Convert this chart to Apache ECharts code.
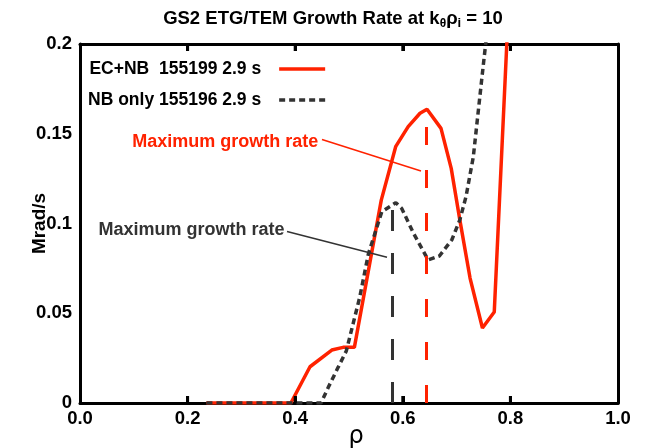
<!DOCTYPE html>
<html><head><meta charset="utf-8">
<script src="https://cdn.jsdelivr.net/npm/echarts@6/dist/echarts.min.js"></script>
<style>html,body{margin:0;padding:0;background:#fff}#c{width:645px;height:448px}</style>
</head><body><div id="c"></div>
<script>
// ---- data ----
const ecnbRho = [0.235, 0.300, 0.392, 0.4275, 0.468, 0.489, 0.510, 0.560, 0.587, 0.610, 0.632, 0.645, 0.671, 0.690, 0.706, 0.725, 0.748, 0.770, 0.800];
const ecnbGamma = [0, 0, 0, 0.0202, 0.0295, 0.031, 0.031, 0.113, 0.143, 0.154, 0.1614, 0.1636, 0.153, 0.1307, 0.102, 0.0696, 0.0418, 0.0507, 0.243];
const nbRho = [0.235, 0.300, 0.392, 0.448, 0.462, 0.480, 0.495, 0.520, 0.536, 0.561, 0.587, 0.598, 0.620, 0.647, 0.668, 0.691, 0.706, 0.7175, 0.731, 0.739, 0.7466, 0.754, 0.760];
const nbGamma = [0, 0, 0, 0, 0.009, 0.020, 0.029, 0.059, 0.083, 0.1066, 0.1116, 0.1084, 0.0945, 0.0797, 0.0819, 0.0908, 0.102, 0.115, 0.137, 0.159, 0.18, 0.2, 0.215];
const seriesNames = ['EC+NB  155199 2.9 s', 'NB only 155196 2.9 s'];
const xTicks = [0, 0.2, 0.4, 0.6, 0.8, 1.0];
const yTickLabels = ['0', '0.05', '0.1', '0.15', '0.2'];
const ecnbMaxLine = [[0.643, 0], [0.643, 0.1636]];
const nbMaxLine = [[0.580, 0], [0.580, 0.1114]];
const ecnbPointer = [[0.4498, 0.1468], [0.6338, 0.1292]];
const nbPointer = [[0.3848, 0.0955], [0.5706, 0.0812]];
const annotText = 'Maximum growth rate';
const ecnbAnnotAt = [0.443, 0.1454];
const nbAnnotAt = [0.380, 0.0965];

const RED = '#ff2200', DARK = '#333333';
const FONT = '"Liberation Sans", Arial, sans-serif';
const Y_MIN = 0, Y_MAX = 0.2;
const zip = (a, b) => a.map((v, i) => [v, b[i]]);

const chart = echarts.init(document.getElementById('c'));
const axisLine = { show: true, onZero: false, lineStyle: { color: '#000', width: 3 } };
const axisTickOpt = { show: true, inside: true, length: 7, lineStyle: { width: 3, color: '#000' } };

chart.setOption({
  animation: false,
  title: {
    text: 'GS2 ETG/TEM Growth Rate at k{sub|θ}ρ{sub2|i} = 10',
    left: 328, top: 2, textAlign: 'center',
    textStyle: {
      fontFamily: FONT, fontSize: 18.5, fontWeight: 'bold', color: '#000',
      rich: {
        sub: { fontFamily: FONT, fontSize: 12, fontWeight: 'bold', padding: [10, 0, 0, 0] },
        sub2: { fontFamily: FONT, fontSize: 13, fontWeight: 'bold', padding: [10, 0, 0, 0] }
      }
    }
  },
  grid: { left: 80, right: 27, top: 44, bottom: 45, show: false, outerBoundsMode: 'none', containLabel: false },
  legend: {
    orient: 'vertical', left: 88, top: 60, align: 'right', itemGap: 13, padding: 0,
    itemWidth: 46, itemHeight: 14,
    itemStyle: { opacity: 0 },
    lineStyle: { width: 3.5 },
    textStyle: { fontFamily: FONT, fontSize: 17.5, fontWeight: 'bold', color: '#000', padding: [0, 13, 0, 0] },
    data: seriesNames
  },
  xAxis: [{
    type: 'value', min: 0, max: 1, interval: 0.2, position: 'bottom',
    axisLine, splitLine: { show: false }, axisTick: axisTickOpt,
    axisLabel: { margin: 6, fontFamily: FONT, fontSize: 18.5, fontWeight: 'bold', color: '#000', formatter: v => v.toFixed(1) },
    name: 'ρ', nameLocation: 'middle', nameGap: 22, nameMoveOverlap: false,
    nameTextStyle: { fontFamily: 'DejaVu Sans, sans-serif', fontSize: 24, color: '#000', padding: [0, 0, 0, 14] }
  }, {
    type: 'value', min: 0, max: 1, interval: 0.2, position: 'top',
    axisLine, splitLine: { show: false }, axisTick: axisTickOpt,
    axisLabel: { show: false }
  }],
  yAxis: [{
    type: 'value', min: Y_MIN, max: Y_MAX, interval: 0.05, position: 'left',
    axisLine, splitLine: { show: false }, axisTick: { show: false },
    axisLabel: { margin: 8, fontFamily: FONT, fontSize: 18.5, fontWeight: 'bold', color: '#000',
      formatter: (v) => yTickLabels[Math.round(v / 0.05)] },
    name: 'Mrad/s', nameLocation: 'middle', nameGap: 31, nameRotate: 90, nameMoveOverlap: false,
    nameTextStyle: { fontFamily: FONT, fontSize: 19, fontWeight: 'bold', color: '#000' }
  }, {
    type: 'value', min: Y_MIN, max: Y_MAX, interval: 0.05, position: 'right',
    axisLine, splitLine: { show: false }, axisTick: { show: false }, axisLabel: { show: false }
  }],
  series: [{
    name: seriesNames[0], type: 'line', data: zip(ecnbRho, ecnbGamma),
    showSymbol: false, symbol: 'none', clip: true, z: 3,
    lineStyle: { color: RED, width: 3.5 }, itemStyle: { color: RED },
    markLine: {
      silent: true, symbol: 'none', animation: false, label: { show: false },
      data: [
        [{ coord: ecnbMaxLine[0], lineStyle: { color: RED, width: 3, type: [18, 25] } }, { coord: ecnbMaxLine[1] }],
        [{ coord: ecnbPointer[0], lineStyle: { color: RED, width: 1.5, type: 'solid' } }, { coord: ecnbPointer[1] }]
      ]
    }
  }, {
    name: seriesNames[1], type: 'line', data: zip(nbRho, nbGamma),
    showSymbol: false, symbol: 'none', clip: true, z: 4,
    lineStyle: { color: DARK, width: 3.5, type: [6, 4] }, itemStyle: { color: DARK },
    markLine: {
      silent: true, symbol: 'none', animation: false, label: { show: false },
      data: [
        [{ coord: nbMaxLine[0], lineStyle: { color: DARK, width: 3, type: [21, 22] } }, { coord: nbMaxLine[1] }],
        [{ coord: nbPointer[0], lineStyle: { color: DARK, width: 1.5, type: 'solid' } }, { coord: nbPointer[1] }]
      ]
    }
  }]
});

function placeOverlays() {
  const p1 = chart.convertToPixel({ gridIndex: 0 }, ecnbAnnotAt);
  const p2 = chart.convertToPixel({ gridIndex: 0 }, nbAnnotAt);
  const graphics = [
    { type: 'text', x: p1[0], y: p1[1], z: 10,
      style: { text: annotText, fill: RED, font: 'bold 18px ' + FONT, textAlign: 'right', textVerticalAlign: 'middle' } },
    { type: 'text', x: p2[0], y: p2[1], z: 10,
      style: { text: annotText, fill: DARK, font: 'bold 18px ' + FONT, textAlign: 'right', textVerticalAlign: 'middle' } }
  ];
  // inward frame ticks at each inner x tick, top and bottom
  xTicks.filter(t => t > 0 && t < 1).forEach(t => {
    const b = chart.convertToPixel({ gridIndex: 0 }, [t, Y_MIN]);
    const tp = chart.convertToPixel({ gridIndex: 0 }, [t, Y_MAX]);
    graphics.push({ type: 'line', z: 20, silent: true,
      shape: { x1: b[0], y1: b[1], x2: b[0], y2: b[1] - 7 }, style: { stroke: '#000', lineWidth: 3 } });
    graphics.push({ type: 'line', z: 20, silent: true,
      shape: { x1: tp[0], y1: tp[1], x2: tp[0], y2: tp[1] + 7 }, style: { stroke: '#000', lineWidth: 3 } });
  });
  chart.setOption({ graphic: graphics });
}
placeOverlays();
</script>
</body></html>
